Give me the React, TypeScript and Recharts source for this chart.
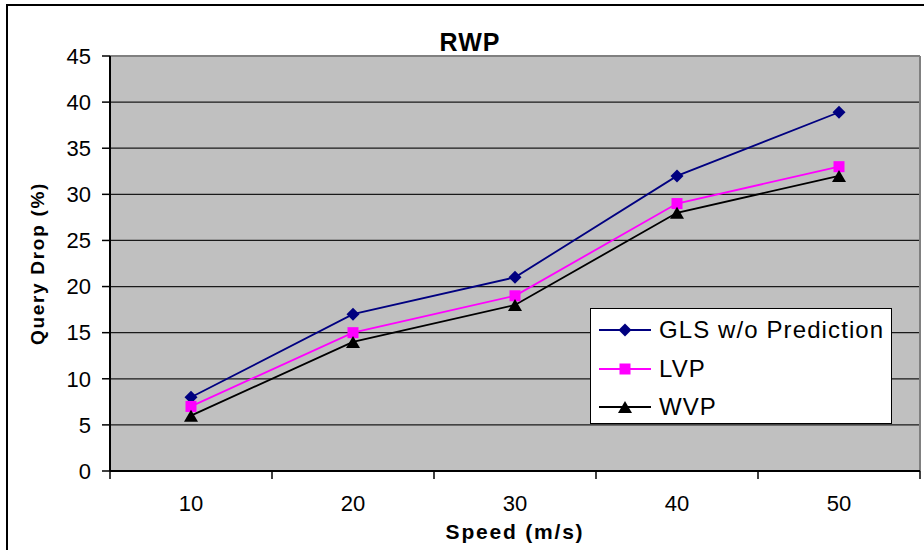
import { CartesianGrid, Label, Legend, Line, LineChart, ReferenceLine, XAxis, YAxis } from 'recharts';

const speeds = [10, 20, 30, 40, 50];
const glsDrop = [8, 17, 21, 32, 38.9];
const lvpDrop = [7, 15, 19, 29, 33];
const wvpDrop = [6, 14, 18, 28, 32];
const yTicks = [0, 5, 10, 15, 20, 25, 30, 35, 40, 45];
const xTicks = [5, 10, 15, 20, 25, 30, 35, 40, 45, 50, 55];

const FONT = '"Liberation Sans", Arial, sans-serif';

const series = [
  { key: 'gls', name: 'GLS w/o Prediction', color: '#000080', shape: 'diamond' },
  { key: 'lvp', name: 'LVP', color: '#FF00FF', shape: 'square' },
  { key: 'wvp', name: 'WVP', color: '#000000', shape: 'triangle' },
];

const data = speeds.map((speed, i) => ({
  speed,
  gls: glsDrop[i],
  lvp: lvpDrop[i],
  wvp: wvpDrop[i],
}));

function markerEl(shape: string, cx: number, cy: number, color: string, key?: string) {
  if (shape === 'diamond') {
    return (
      <path
        key={key}
        d={`M${cx},${cy - 6.5}L${cx + 6.5},${cy}L${cx},${cy + 6.5}L${cx - 6.5},${cy}Z`}
        fill={color}
      />
    );
  }
  if (shape === 'square') {
    return <rect key={key} x={cx - 5.5} y={cy - 5.5} width={11} height={11} fill={color} />;
  }
  return (
    <path key={key} d={`M${cx},${cy - 6}L${cx + 7},${cy + 6}L${cx - 7},${cy + 6}Z`} fill={color} />
  );
}

function SpeedTick(props: any) {
  const { x, y, payload } = props;
  if (payload.value % 10 === 0) {
    return (
      <text
        x={x}
        y={y + 32}
        textAnchor="middle"
        fill="#000"
        style={{ fontFamily: FONT, fontSize: 22 }}
      >
        {payload.value}
      </text>
    );
  }
  return <line x1={x} x2={x} y1={y - 8} y2={y} stroke="#000" strokeWidth={1.5} />;
}

function LegendBox(props: any) {
  const items = props.payload || [];
  return (
    <div
      style={{
        boxSizing: 'border-box',
        width: 302,
        height: 116,
        background: '#fff',
        border: '1px solid #000',
        paddingTop: 2,
      }}
    >
      {items.map((item: any) => {
        const s = series.find((d) => d.key === item.dataKey)!;
        return (
          <div
            key={s.key}
            style={{ display: 'flex', alignItems: 'center', height: 38.5, paddingLeft: 8 }}
          >
            <svg width={60} height={20} style={{ display: 'block' }}>
              <line x1={0} x2={52} y1={10} y2={10} stroke={s.color} strokeWidth={1.8} />
              {markerEl(s.shape, 26, 10, s.color)}
            </svg>
            <span style={{ fontFamily: FONT, fontSize: 24, letterSpacing: 1.1, color: '#000' }}>
              {s.name}
            </span>
          </div>
        );
      })}
    </div>
  );
}

export default function App() {
  return (
    <div
      style={{
        position: 'absolute',
        left: 0,
        top: 0,
        width: 924,
        height: 550,
        overflow: 'hidden',
        background: '#fff',
      }}
    >
      <div
        style={{
          position: 'absolute',
          left: 6,
          top: 4,
          width: 1000,
          height: 1000,
          borderTop: '2px solid #000',
          borderLeft: '2px solid #000',
        }}
      />
      <div
        style={{
          position: 'absolute',
          left: 0,
          width: 940,
          top: 30,
          textAlign: 'center',
          fontFamily: FONT,
          fontWeight: 'bold',
          fontSize: 25,
          lineHeight: '25px',
          letterSpacing: 1,
        }}
      >
        RWP
      </div>
      <LineChart
        width={924}
        height={550}
        data={data}
        margin={{ top: 56, right: 4, left: 0, bottom: 0 }}
        style={{ position: 'absolute', left: 0, top: 0 }}
      >
        <CartesianGrid
          vertical={false}
          fill="#C0C0C0"
          stroke="#1a1a1a"
          strokeWidth={1.2}
          fillOpacity={1}
        />
        <XAxis
          dataKey="speed"
          type="number"
          domain={[5, 55]}
          ticks={xTicks}
          interval={0}
          height={79}
          tickLine={false}
          tickSize={8}
          tickMargin={0}
          axisLine={{ stroke: '#000', strokeWidth: 2 }}
          tick={<SpeedTick />}
        >
          <Label
            content={(p: any) => {
              const vb = p.viewBox;
              return (
                <text
                  x={vb.x + vb.width / 2}
                  y={vb.y + 68}
                  textAnchor="middle"
                  fill="#000"
                  style={{ fontFamily: FONT, fontWeight: 'bold', fontSize: 21, letterSpacing: 1.8 }}
                >
                  Speed (m/s)
                </text>
              );
            }}
          />
        </XAxis>
        <YAxis
          type="number"
          domain={[0, 45]}
          ticks={yTicks}
          interval={0}
          width={110}
          tickSize={8}
          tickMargin={11}
          tickLine={{ stroke: '#000', strokeWidth: 1.5 }}
          axisLine={{ stroke: '#000', strokeWidth: 2 }}
          tick={{ fill: '#000', fontSize: 22, fontFamily: FONT }}
        >
          <Label
            content={(p: any) => {
              const vb = p.viewBox;
              const cx = vb.x + 44;
              const cy = vb.y + vb.height / 2;
              return (
                <text
                  x={cx}
                  y={cy}
                  textAnchor="middle"
                  fill="#000"
                  transform={`rotate(-90 ${cx} ${cy})`}
                  style={{ fontFamily: FONT, fontWeight: 'bold', fontSize: 19, letterSpacing: 1.7 }}
                >
                  Query Drop (%)
                </text>
              );
            }}
          />
        </YAxis>
        <ReferenceLine y={45} stroke="#808080" strokeWidth={2} />
        <ReferenceLine x={55} stroke="#808080" strokeWidth={2} />
        {series.map((s) => (
          <Line
            key={s.key}
            dataKey={s.key}
            name={s.name}
            stroke={s.color}
            strokeWidth={1.8}
            isAnimationActive={false}
            dot={(p: any) => markerEl(s.shape, p.cx, p.cy, s.color, `${s.key}-${p.index}`)}
            activeDot={false}
          />
        ))}
        <Legend
          layout="vertical"
          align="center"
          verticalAlign="middle"
          wrapperStyle={{ left: 590, top: 308, width: 302, height: 116 }}
          content={<LegendBox />}
        />
      </LineChart>
    </div>
  );
}
